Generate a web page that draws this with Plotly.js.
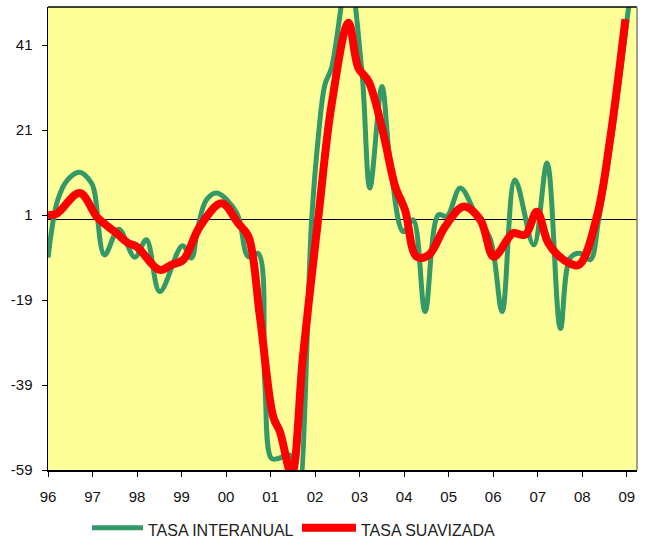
<!DOCTYPE html>
<html>
<head>
<meta charset="utf-8">
<script src="https://cdn.plot.ly/plotly-3.0.1.min.js"></script>
<style>html,body{margin:0;padding:0;background:#fff;}#chart{width:652px;height:545px;}</style>
</head>
<body>
<div id="chart"></div>
<script>
// Tick labels
const tickYears = [1996,1997,1998,1999,2000,2001,2002,2003,2004,2005,2006,2007,2008,2009];
const tickLabels = ['96','97','98','99','00','01','02','03','04','05','06','07','08','09'];
const yTicks = [-59,-39,-19,1,21,41];
const yTickLabels = ['-59','-39','-19','1','21','41'];
const seriesNames = ['TASA INTERANUAL','TASA SUAVIZADA'];
const seriesColors = ['#339966','#FF0000'];

// TASA INTERANUAL
const interanualX = [1996.00,1996.22,1996.44,1996.71,1996.98,1997.05,1997.27,1997.59,1997.95,1998.21,1998.51,1999.02,1999.22,1999.37,1999.56,1999.79,2000.24,2000.50,2000.72,2000.87,2001.02,2001.17,2001.43,2001.62,2001.92,2002.07,2002.22,2002.37,2002.75,2003.05,2003.23,2003.50,2003.68,2003.98,2004.20,2004.47,2004.77,2004.96,2005.26,2005.63,2005.94,2006.20,2006.49,2006.91,2007.21,2007.51,2007.73,2007.96,2008.18,2008.37,2008.70,2009.10];
const interanualY = [-9.0,4.6,9.3,11.1,8.5,6.2,-8.4,-2.3,-8.9,-4.8,-17.0,-6.2,-9.1,-1.7,4.6,6.2,1.5,-8.8,-8.0,-38.6,-56.3,-56.3,-55.5,-66.0,-0.5,19.2,31.7,35.7,58.0,34.9,7.4,31.3,14.0,-2.9,-0.1,-21.7,1.1,0.7,7.4,0.7,-4.8,-21.7,9.3,-6.0,13.3,-25.7,-9.1,-8.0,-9.5,0.0,22.0,55.0];

// TASA SUAVIZADA
const suavizadaX = [1996.00,1996.19,1996.71,1997.12,1997.50,1997.80,1997.99,1998.51,1998.77,1999.04,1999.41,1999.90,2000.27,2000.50,2000.76,2001.06,2001.21,2001.47,2001.73,2002.07,2002.37,2002.75,2002.97,2003.20,2003.53,2003.80,2004.02,2004.28,2004.55,2004.92,2005.33,2005.71,2006.01,2006.34,2006.45,2006.72,2006.98,2007.24,2007.58,2007.92,2008.33,2008.63,2008.97];
const suavizadaY = [1.1,1.3,6.2,0.3,-2.9,-5.6,-6.4,-11.9,-10.7,-9.5,-1.7,3.8,-0.9,-4.0,-22.9,-46.5,-50.0,-60.0,-31.9,0.3,27.0,46.3,35.7,32.5,20.3,7.7,2.2,-8.8,-8.4,-1.7,3.0,-0.1,-8.8,-4.4,-3.2,-3.6,1.8,-5.6,-9.5,-10.7,0.7,19.2,47.1];

const traces = [
  {x: interanualX, y: interanualY, type: 'scatter', mode: 'lines', name: seriesNames[0],
   line: {color: seriesColors[0], width: 5, shape: 'spline', smoothing: 1}},
  {x: suavizadaX, y: suavizadaY, type: 'scatter', mode: 'lines', name: seriesNames[1],
   line: {color: seriesColors[1], width: 8, shape: 'spline', smoothing: 1}}
];

// custom legend (paper coordinates)
const legY = -0.1246;
const legTextY = -0.1296;

const layout = {
  width: 652, height: 545,
  margin: {l: 48, r: 15, t: 7, b: 75},
  paper_bgcolor: '#ffffff',
  plot_bgcolor: '#FFFF99',
  font: {family: 'Liberation Sans, Arial, sans-serif', size: 15, color: '#000'},
  showlegend: false,
  xaxis: {
    range: [1996, 2009.23], tickmode: 'array', tickvals: tickYears, ticktext: tickLabels,
    ticks: 'outside', ticklen: 5, tickwidth: 1, tickcolor: '#000',
    showline: true, linecolor: '#000', linewidth: 1.5, mirror: false,
    showgrid: false, zeroline: false, fixedrange: true, ticklabelstandoff: 7,
    tickfont: {size: 15, color: '#111'}
  },
  yaxis: {
    range: [-59, 50], tickmode: 'array', tickvals: yTicks, ticktext: yTickLabels,
    ticks: 'outside', ticklen: 5, tickwidth: 1, tickcolor: '#000',
    showline: true, linecolor: '#000', linewidth: 1.5, mirror: false,
    showgrid: false, zeroline: true, zerolinecolor: '#000', zerolinewidth: 1,
    fixedrange: true, ticklabelstandoff: 6,
    tickfont: {size: 15, color: '#111'}
  },
  shapes: [
    {type: 'line', xref: 'paper', yref: 'paper', x0: 0, x1: 1, y0: 1, y1: 1, line: {color: '#000', width: 1.5}},
    {type: 'line', xref: 'paper', yref: 'paper', x0: 1, x1: 1, y0: 0, y1: 1, line: {color: '#808080', width: 1.5}},
    {type: 'line', xref: 'paper', yref: 'paper', x0: 0.0747, x1: 0.1613, y0: legY, y1: legY, line: {color: seriesColors[0], width: 5}},
    {type: 'line', xref: 'paper', yref: 'paper', x0: 0.4312, x1: 0.5229, y0: legY, y1: legY, line: {color: seriesColors[1], width: 8}}
  ],
  annotations: [
    {xref: 'paper', yref: 'paper', x: 0.1664, y: legTextY, xanchor: 'left', yanchor: 'middle', showarrow: false,
     text: seriesNames[0], font: {size: 16, color: '#222'}},
    {xref: 'paper', yref: 'paper', x: 0.528, y: legTextY, xanchor: 'left', yanchor: 'middle', showarrow: false,
     text: seriesNames[1], font: {size: 16, color: '#222'}}
  ]
};

Plotly.newPlot('chart', traces, layout, {displayModeBar: false, staticPlot: true});
</script>
</body>
</html>
